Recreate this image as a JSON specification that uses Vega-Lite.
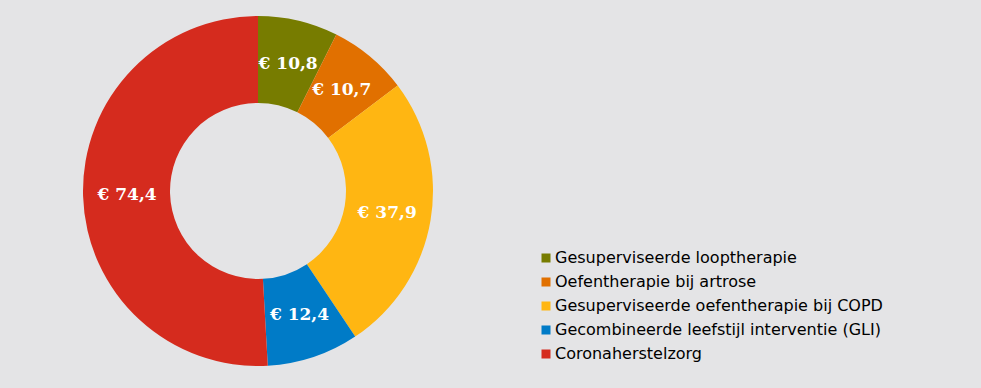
{
  "$schema": "https://vega.github.io/schema/vega-lite/v6.json",
  "width": 516,
  "height": 382,
  "autosize": {"type": "none"},
  "padding": {"left": 0, "top": 0, "right": 465, "bottom": 6},
  "background": "#E4E4E6",
  "config": {
    "view": {"stroke": null},
    "locale": {"number": {"decimal": ",", "thousands": ".", "grouping": [3], "currency": ["€ ", ""]}}
  },
  "data": {
    "values": [
      {"categorie": "Gesuperviseerde looptherapie", "bedrag": 10.8, "volgorde": 1},
      {"categorie": "Oefentherapie bij artrose", "bedrag": 10.7, "volgorde": 2},
      {"categorie": "Gesuperviseerde oefentherapie bij COPD", "bedrag": 37.9, "volgorde": 3},
      {"categorie": "Gecombineerde leefstijl interventie (GLI)", "bedrag": 12.4, "volgorde": 4},
      {"categorie": "Coronaherstelzorg", "bedrag": 74.4, "volgorde": 5}
    ]
  },
  "encoding": {
    "theta": {"field": "bedrag", "type": "quantitative", "stack": true},
    "order": {"field": "volgorde", "type": "quantitative"},
    "color": {
      "field": "categorie",
      "type": "nominal",
      "scale": {
        "domain": ["Gesuperviseerde looptherapie", "Oefentherapie bij artrose", "Gesuperviseerde oefentherapie bij COPD", "Gecombineerde leefstijl interventie (GLI)", "Coronaherstelzorg"],
        "range": ["#777C00", "#E17000", "#FFB612", "#007BC7", "#D52B1E"]
      },
      "legend": {
        "title": null,
        "orient": "none",
        "legendX": 538,
        "legendY": 250,
        "padding": 0,
        "symbolType": "square",
        "symbolSize": 81,
        "symbolStrokeWidth": 0,
        "labelFont": "DejaVu Sans",
        "labelFontSize": 16,
        "labelColor": "#000000",
        "labelLimit": 500,
        "labelOffset": 1,
        "rowPadding": 8
      }
    }
  },
  "layer": [
    {"mark": {"type": "arc", "outerRadius": 175, "innerRadius": 88}},
    {
      "mark": {"type": "text", "radius": 131, "font": "DejaVu Serif", "fontWeight": "bold", "fontSize": 17, "fill": "#FFFFFF"},
      "encoding": {
        "text": {"field": "bedrag", "type": "quantitative", "format": "$.1f"},
        "color": {"value": "#FFFFFF"}
      }
    }
  ]
}
